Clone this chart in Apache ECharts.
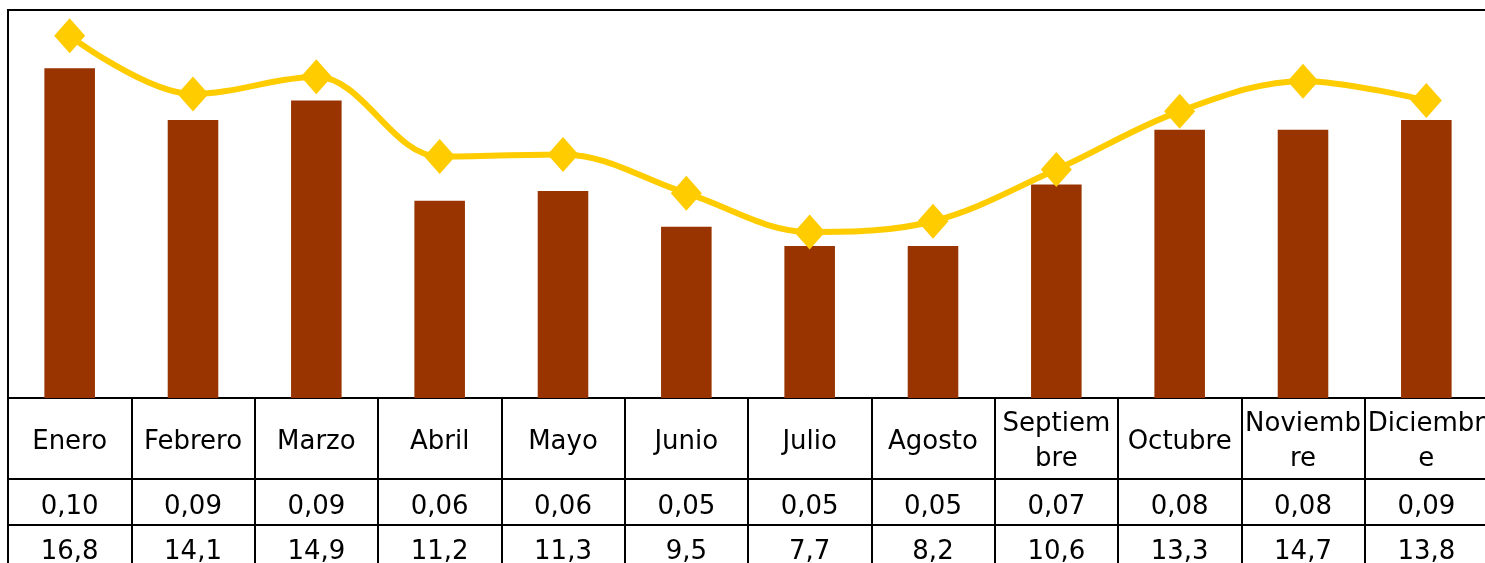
<!DOCTYPE html>
<html>
<head>
<meta charset="utf-8">
<script src="https://cdn.jsdelivr.net/npm/echarts@6/dist/echarts.min.js"></script>
<style>html,body{margin:0;padding:0;background:#fff;}#c{width:1485px;height:563px;}</style>
</head>
<body>
<div id="c"></div>
<script>
const categories = ['Enero','Febrero','Marzo','Abril','Mayo','Junio','Julio','Agosto','Septiembre','Octubre','Noviembre','Diciembre'];
const categoryLabels = ['Enero','Febrero','Marzo','Abril','Mayo','Junio','Julio','Agosto','Septiem\nbre','Octubre','Noviemb\nre','Diciembr\ne'];
const barValues = [0.102, 0.086, 0.092, 0.061, 0.064, 0.053, 0.047, 0.047, 0.066, 0.083, 0.083, 0.086];
const lineValues = [16.8, 14.1, 14.9, 11.2, 11.3, 9.5, 7.7, 8.2, 10.6, 13.3, 14.7, 13.8];

const FONT = 'DejaVu Sans';
const chart = echarts.init(document.getElementById('c'), null, {renderer: 'canvas'});
const fmt = (v, d) => v.toFixed(d).replace('.', ',');

chart.setOption({
  animation: false,
  backgroundColor: '#fff',
  grid: {left: 8, right: -3, top: 10, bottom: 165, show: true, borderColor: '#000', borderWidth: 2, containLabel: false, outerBoundsMode: 'none'},
  xAxis: [
    {
      type: 'category', data: categories, position: 'bottom', boundaryGap: true,
      axisLine: {show: true, onZero: false, lineStyle: {color: '#000', width: 2}},
      axisTick: {show: true, length: 180, lineStyle: {color: '#000', width: 2}},
      axisLabel: {
        interval: 0, margin: 44, verticalAlign: 'middle', fontFamily: FONT, fontSize: 26, lineHeight: 35, color: '#000',
        formatter: (v, i) => categoryLabels[i]
      }
    },
    {
      type: 'category', data: categories, position: 'bottom', offset: 81, boundaryGap: true,
      axisLine: {show: true, onZero: false, lineStyle: {color: '#000', width: 2}},
      axisTick: {show: false},
      axisLabel: {
        interval: 0, margin: 28, verticalAlign: 'middle', fontFamily: FONT, fontSize: 26, color: '#000',
        formatter: (v, i) => fmt(barValues[i], 2)
      }
    },
    {
      type: 'category', data: categories, position: 'bottom', offset: 127, boundaryGap: true,
      axisLine: {show: true, onZero: false, lineStyle: {color: '#000', width: 2}},
      axisTick: {show: false},
      axisLabel: {
        interval: 0, margin: 27, verticalAlign: 'middle', fontFamily: FONT, fontSize: 26, color: '#000',
        formatter: (v, i) => fmt(lineValues[i], 1)
      }
    }
  ],
  yAxis: [
    {type: 'value', min: 0, max: 0.12, show: false, splitLine: {show: false}},
    {type: 'value', min: 0, max: 18, show: false, splitLine: {show: false}}
  ],
  series: [
    {
      type: 'bar', data: barValues, xAxisIndex: 0, yAxisIndex: 0, barWidth: '41%',
      itemStyle: {color: '#993300'}
    },
    {
      type: 'line', data: lineValues, xAxisIndex: 0, yAxisIndex: 1, smooth: 0.35,
      symbol: 'diamond', symbolSize: [31, 35], showAllSymbol: true,
      lineStyle: {color: '#FFCC00', width: 6},
      itemStyle: {color: '#FFCC00'}
    }
  ]
});
</script>
</body>
</html>
